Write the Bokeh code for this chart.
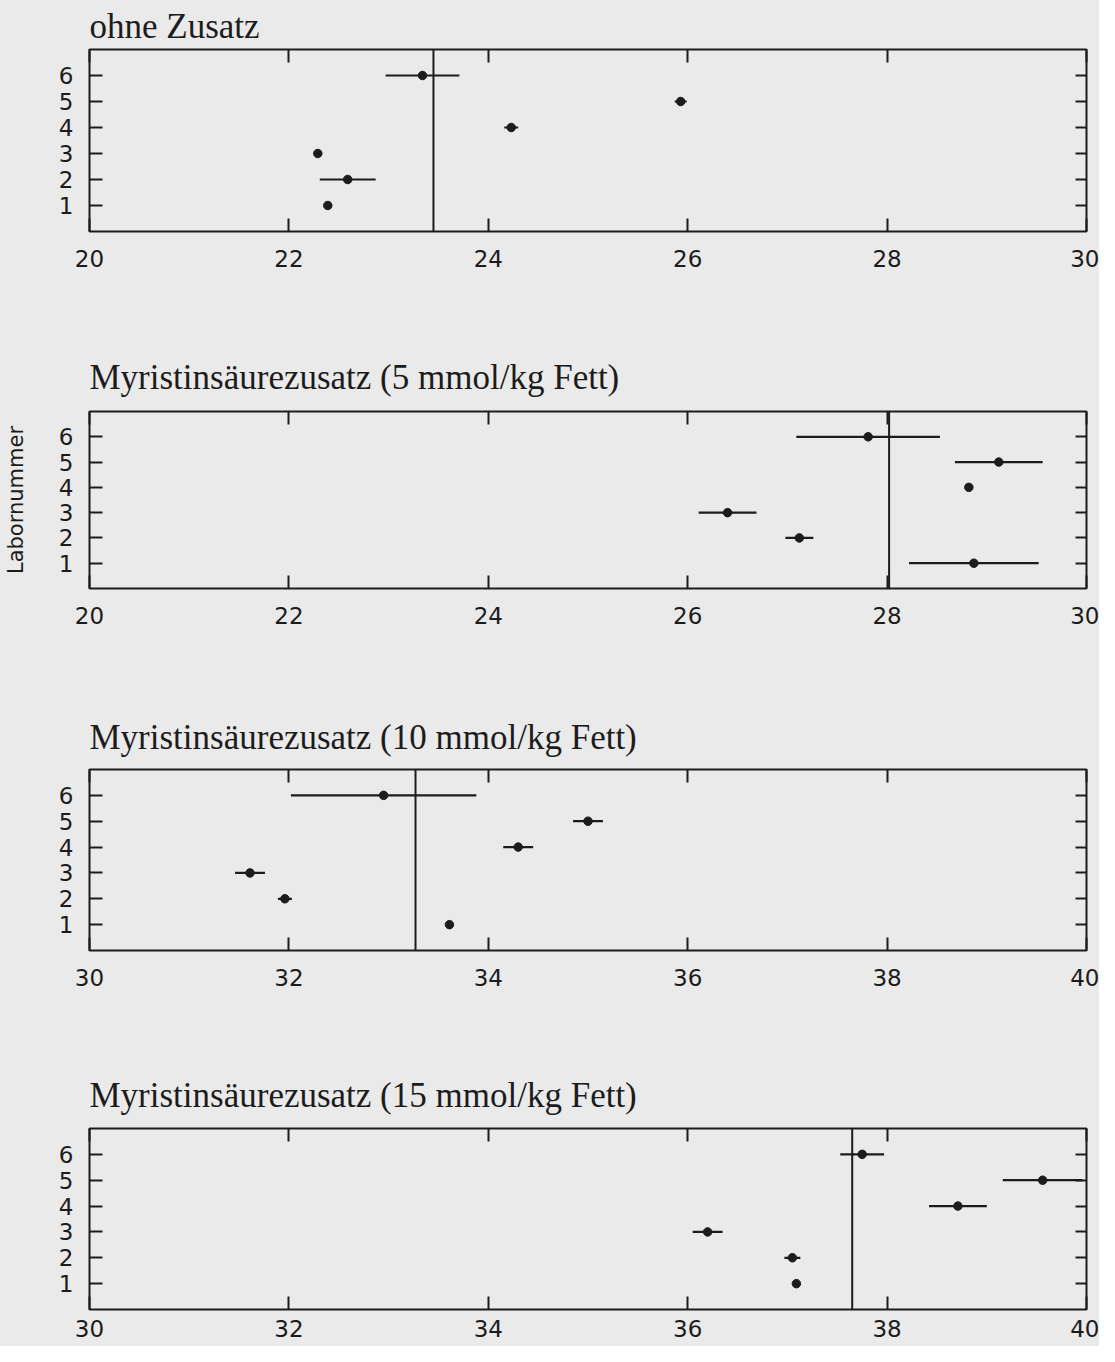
from bokeh.plotting import figure
from bokeh.models import LinearAxis, FixedTicker, Span, Range1d, ColumnDataSource
from bokeh.layouts import column
from bokeh.embed import file_html
from bokeh.resources import INLINE

labs = [1, 2, 3, 4, 5, 6]

titles = [
    "ohne Zusatz",
    "Myristinsäurezusatz (5 mmol/kg Fett)",
    "Myristinsäurezusatz (10 mmol/kg Fett)",
    "Myristinsäurezusatz (15 mmol/kg Fett)",
]

# Panel 1: ohne Zusatz
mean_0 = [22.39, 22.59, 22.29, 24.23, 25.93, 23.34]
err_0 = [0.0, 0.28, 0.0, 0.07, 0.06, 0.37]
ref_0 = 23.45

# Panel 2: 5 mmol/kg
mean_5 = [28.87, 27.12, 26.40, 28.82, 29.12, 27.81]
err_5 = [0.65, 0.14, 0.29, 0.0, 0.44, 0.72]
ref_5 = 28.02

# Panel 3: 10 mmol/kg
mean_10 = [33.61, 31.96, 31.61, 34.30, 35.00, 32.95]
err_10 = [0.0, 0.07, 0.15, 0.15, 0.15, 0.93]
ref_10 = 33.27

# Panel 4: 15 mmol/kg
mean_15 = [37.09, 37.05, 36.20, 38.71, 39.56, 37.75]
err_15 = [0.0, 0.08, 0.15, 0.29, 0.40, 0.22]
ref_15 = 37.65

x_ranges = [(20, 30), (20, 30), (30, 40), (30, 40)]
x_ticks = [[20, 22, 24, 26, 28, 30], [20, 22, 24, 26, 28, 30],
           [30, 32, 34, 36, 38, 40], [30, 32, 34, 36, 38, 40]]
y_label = "Labornummer"

INK = "#1c1c1c"
BG = "#eaeaea"
SERIF = "Liberation Serif"
SANS = "DejaVu Sans"
TICK_FS = "23px"

# layout: (height, border_top, border_bottom, title_standoff, xlabel_standoff)
layouts = [
    (290, 49, 59, 8, 18),
    (360, 121, 62, 29, 18),
    (360, 119, 60, 25, 18),
    (336, 118, 37, 28, 10),
]
W = 1099
BL = 88
BR = 13


def panel(i, means, errs, ref, with_ylabel=False):
    h, bt, bb, ts, xs = layouts[i]
    x0, x1 = x_ranges[i]
    p = figure(width=W, height=h, output_backend="svg", toolbar_location=None,
               x_range=Range1d(x0, x1), y_range=Range1d(0, 7),
               min_border_top=bt, min_border_bottom=bb,
               min_border_left=BL, min_border_right=BR,
               x_axis_location=None, y_axis_location=None)
    p.background_fill_color = BG
    p.border_fill_color = BG
    p.outline_line_color = INK
    p.outline_line_width = 2
    p.grid.visible = False

    p.title.text = titles[i]
    p.title.text_font = SERIF
    p.title.text_font_size = "35px"
    p.title.text_font_style = "normal"
    p.title.text_color = INK
    p.title.align = "left"
    p.title.standoff = ts
    p.title.offset = 0

    def style(ax, labels, tick_len):
        ax.axis_line_color = None
        ax.major_tick_in = tick_len
        ax.major_tick_out = 0
        ax.major_tick_line_color = INK
        ax.major_tick_line_width = 2
        ax.minor_tick_line_color = None
        ax.major_label_text_font = SANS
        ax.major_label_text_font_style = "normal"
        ax.major_label_text_color = INK
        if labels:
            ax.major_label_text_font_size = TICK_FS
        else:
            ax.major_label_text_font_size = "0px"
            ax.major_label_standoff = 0

    xt = x_ticks[i]

    bottom = LinearAxis(ticker=FixedTicker(ticks=xt))
    style(bottom, True, 13)
    bottom.major_label_standoff = xs
    p.add_layout(bottom, "below")

    top = LinearAxis(ticker=FixedTicker(ticks=xt))
    style(top, False, 13)
    p.add_layout(top, "above")

    left = LinearAxis(ticker=FixedTicker(ticks=labs))
    style(left, True, 13)
    left.major_label_standoff = 16
    if with_ylabel:
        left.axis_label = y_label
        left.axis_label_text_font = SANS
        left.axis_label_text_font_size = "21px"
        left.axis_label_text_font_style = "normal"
        left.axis_label_text_color = INK
        left.axis_label_standoff = 28
    p.add_layout(left, "left")

    right = LinearAxis(ticker=FixedTicker(ticks=labs))
    style(right, False, 11)
    p.add_layout(right, "right")

    src = ColumnDataSource(dict(
        lab=labs, m=means,
        lo=[m - e for m, e in zip(means, errs)],
        hi=[m + e for m, e in zip(means, errs)],
    ))
    p.segment(x0="lo", y0="lab", x1="hi", y1="lab", source=src,
              line_color=INK, line_width=2.2)
    p.scatter(x="m", y="lab", source=src, size=8.5, marker="circle",
              fill_color=INK, line_color=INK)
    p.add_layout(Span(location=ref, dimension="height",
                      line_color=INK, line_width=2))
    return p


panels = [
    panel(0, mean_0, err_0, ref_0),
    panel(1, mean_5, err_5, ref_5, with_ylabel=True),
    panel(2, mean_10, err_10, ref_10),
    panel(3, mean_15, err_15, ref_15),
]

layout = column(*panels, spacing=0)
layout.styles = {"background-color": BG}
open("out.html", "w").write(file_html(layout, INLINE))
